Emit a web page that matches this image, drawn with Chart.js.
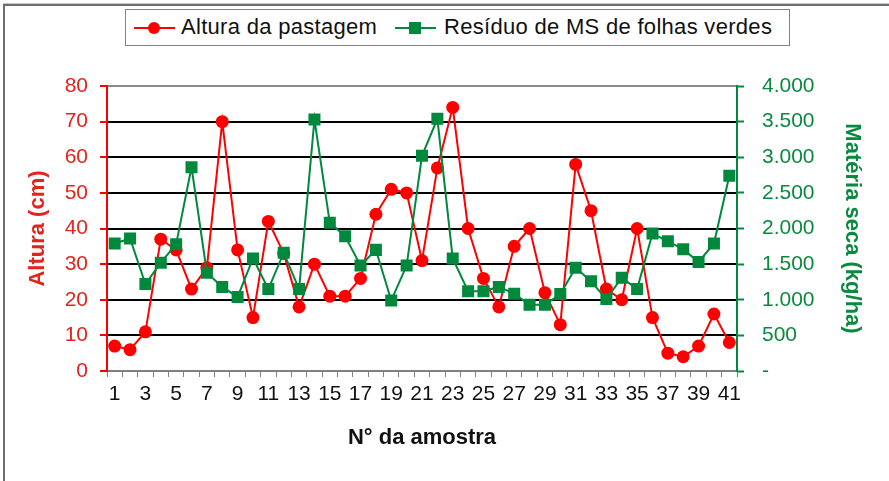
<!DOCTYPE html>
<html>
<head>
<meta charset="utf-8">
<script src="https://cdn.jsdelivr.net/npm/chart.js@4.4.1/dist/chart.umd.min.js"></script>
<style>
    body { margin: 0; background: #fff; }
    #wrap { position: relative; width: 889px; height: 481px; background: #fff; }
    #frame { position: absolute; left: 3px; top: 4px; right: 0; bottom: 0;
             border-left: 2px solid #6e6e6e; border-top: 2px solid #6e6e6e;
             box-shadow: 0 -1px 0 #c8c8c8; pointer-events: none; }
    #legend { position: absolute; left: 125px; top: 9px; width: 663px; height: 35px;
              border: 1px solid #808080; background: #fff;
              font-family: 'Liberation Sans', Arial, sans-serif; font-size: 22px; color: #111; }
    .item-marker { position: absolute; top: 17px; height: 2px; width: 41px; }
    .item-dot { position: absolute; left: 14px; top: -5px; width: 12px; height: 12px; }
    .item-text { position: absolute; top: 4px; white-space: nowrap; letter-spacing: 0.3px; }
    canvas { position: absolute; left: 0; top: 0; }
</style>
</head>
<body>
<div id="wrap">
    <canvas id="chart" width="889" height="481"></canvas>
    <div id="frame"></div>
    <div id="legend"></div>
</div>
<script>
// Data
const samples = ['1','2','3','4','5','6','7','8','9','10','11','12','13','14','15','16','17','18','19','20',
                 '21','22','23','24','25','26','27','28','29','30','31','32','33','34','35','36','37','38','39','40','41'];

// Altura da pastagem (cm) - left axis
const altura = [7, 6, 11, 37, 34, 23, 29, 70, 34, 15, 42, 33, 18, 30, 21, 21, 26, 44, 51, 50,
                31, 57, 74, 40, 26, 18, 35, 40, 22, 13, 58, 45, 23, 20, 40, 15, 5, 4, 7, 16, 8];

// Residuo de MS de folhas verdes (kg/ha) - right axis
const residuo = [1790, 1860, 1220, 1520, 1780, 2860, 1380, 1180, 1040, 1580, 1150, 1660, 1150, 3530, 2080, 1890, 1480, 1700, 990, 1480,
                 3020, 3540, 1580, 1120, 1120, 1180, 1085, 930, 930, 1080, 1450, 1260, 1010, 1310, 1150, 1930, 1820, 1710, 1530, 1790, 2740];

const leftTicks = [0, 10, 20, 30, 40, 50, 60, 70, 80];
const rightTicks = [0, 500, 1000, 1500, 2000, 2500, 3000, 3500, 4000];

// Colours
const red = '#ff0000';
const redText = '#e3241c';
const green = '#00893c';
const greenText = '#0a8a3e';
const font = "'Liberation Sans', Arial, sans-serif";

// Thousands with a dot, zero as a dash (Excel accounting style)
function formatKg(v) {
    if (v === 0) return '-';
    return String(v).replace(/\B(?=(\d{3})+(?!\d))/g, '.');
}

const ctx = document.getElementById('chart');

const chart = new Chart(ctx, {
    type: 'line',
    data: {
        labels: samples,
        datasets: [{
            label: 'Altura da pastagem',
            data: altura,
            yAxisID: 'y',
            borderColor: red,
            backgroundColor: red,
            borderWidth: 2,
            pointStyle: 'circle',
            pointRadius: 6.5,
            pointBorderWidth: 0,
            tension: 0,
            order: 1
        }, {
            label: 'Resíduo de MS de folhas verdes',
            data: residuo,
            yAxisID: 'y1',
            borderColor: green,
            backgroundColor: green,
            borderWidth: 2,
            pointStyle: 'rect',
            pointRadius: 8.5,
            pointBorderWidth: 0,
            tension: 0,
            order: 0
        }]
    },
    options: {
        responsive: false,
        animation: false,
        layout: { padding: { left: 25, right: 24, top: 86, bottom: 30 } },
        plugins: {
            legend: { display: false },
            tooltip: { enabled: false }
        },
        scales: {
            x: {
                offset: true,
                grid: {
                    offset: true,
                    drawOnChartArea: false,
                    tickLength: 6,
                    tickColor: '#808080',
                    tickWidth: 1
                },
                border: { color: '#808080', width: 2 },
                ticks: {
                    autoSkip: false,
                    maxRotation: 0,
                    padding: 5,
                    color: '#111',
                    font: { family: font, size: 21 },
                    callback: function(value, index) {
                        return index % 2 === 0 ? this.getLabelForValue(value) : '';
                    }
                },
                title: {
                    display: true,
                    text: 'N° da amostra',
                    color: '#111',
                    font: { family: font, size: 22, weight: 'bold' },
                    padding: 0
                },
                afterFit: scale => { scale.height = 80; }
            },
            y: {
                position: 'left',
                min: 0,
                max: 80,
                afterBuildTicks: scale => { scale.ticks = leftTicks.map(v => ({ value: v })); },
                grid: {
                    color: c => c.tick.value === 80 ? '#8a8a8a' : (c.tick.value === 0 ? 'rgba(0,0,0,0)' : '#000'),
                    lineWidth: 2,
                    tickLength: 7,
                    tickColor: red,
                    tickWidth: 2
                },
                border: { color: red, width: 2 },
                ticks: {
                    padding: 12,
                    color: redText,
                    font: { family: font, size: 21 }
                },
                title: {
                    display: true,
                    text: 'Altura (cm)',
                    color: redText,
                    font: { family: font, size: 22, weight: 'bold' },
                    padding: 0
                },
                afterFit: scale => { scale.width = 82; }
            },
            y1: {
                position: 'right',
                min: 0,
                max: 4000,
                afterBuildTicks: scale => { scale.ticks = rightTicks.map(v => ({ value: v })); },
                grid: {
                    drawOnChartArea: false,
                    tickLength: 7,
                    tickColor: green,
                    tickWidth: 2
                },
                border: { color: green, width: 2 },
                ticks: {
                    padding: 18,
                    color: greenText,
                    font: { family: font, size: 21 },
                    callback: v => formatKg(v)
                },
                title: {
                    display: true,
                    text: 'Matéria seca (kg/ha)',
                    color: greenText,
                    font: { family: font, size: 22, weight: 'bold' },
                    padding: 0
                },
                afterFit: scale => { scale.width = 128; }
            }
        }
    }
});

// Legend (line + marker, boxed), built from the datasets
const legendBox = document.getElementById('legend');
const markerLeft = [8, 269];
const textLeft = [55, 318];
chart.data.datasets.forEach((ds, i) => {
    const marker = document.createElement('div');
    marker.className = 'item-marker';
    marker.style.left = markerLeft[i] + 'px';
    marker.style.background = ds.borderColor;
    const dot = document.createElement('div');
    dot.className = 'item-dot';
    dot.style.background = ds.backgroundColor;
    if (ds.pointStyle === 'circle') dot.style.borderRadius = '50%';
    marker.appendChild(dot);
    const text = document.createElement('span');
    text.className = 'item-text';
    text.style.left = textLeft[i] + 'px';
    text.textContent = ds.label;
    legendBox.appendChild(marker);
    legendBox.appendChild(text);
});
</script>
</body>
</html>
